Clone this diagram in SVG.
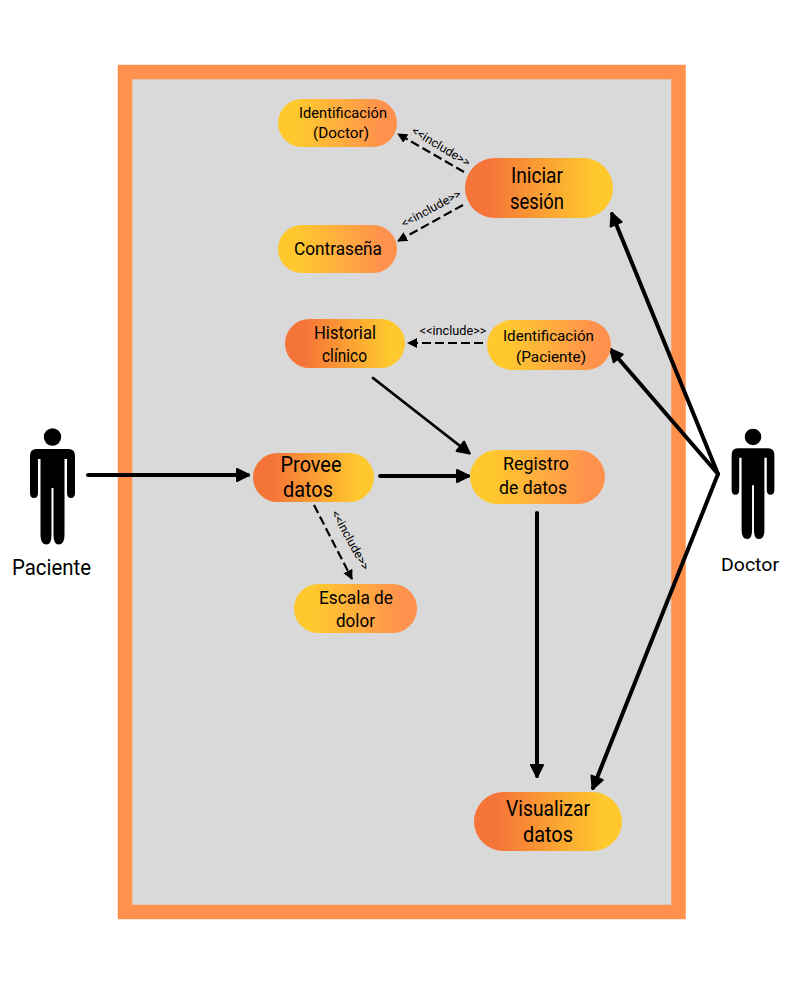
<svg xmlns="http://www.w3.org/2000/svg" width="800" height="1000" viewBox="0 0 800 1000">
<style>
text{font-family:Roboto,"Noto Sans",sans-serif;fill:#000;text-anchor:middle}
.s{font-size:15.500px}.m{font-size:18px}.l{font-size:21.500px}.t{font-size:12px}
.c{fill:none;stroke:#000;stroke-linecap:round;stroke-linejoin:round}
.b{stroke-width:4}.n{stroke-width:2.8}.d{stroke-width:2.200;stroke-dasharray:9 4;stroke-linecap:butt}
</style>
<defs>
<linearGradient id="oy" x1="0" x2="1" y1="0" y2="0"><stop offset="0.15" stop-color="#f57438"/><stop offset="0.88" stop-color="#ffc92e"/></linearGradient>
<linearGradient id="yo" x1="0" x2="1" y1="0" y2="0"><stop offset="0.15" stop-color="#ffc92e"/><stop offset="0.88" stop-color="#ff914d"/></linearGradient>
<marker id="a" markerUnits="userSpaceOnUse" markerWidth="18" markerHeight="18" refX="13" refY="8" orient="auto"><path d="M2 2L14 8L2 14Z" fill="#000" stroke="#000" stroke-width="2" stroke-linejoin="round"/></marker>
<marker id="sa" markerUnits="userSpaceOnUse" markerWidth="12" markerHeight="12" refX="9" refY="5" orient="auto"><path d="M0 0L10 5L0 10Z" fill="#000"/></marker>
<g id="man"><circle cx="0" cy="-38" r="8.700" fill="#000"/><path d="M-16-26H16Q22.500-26 22.500-19V18Q22.500 23 18.500 23Q14.500 23 14.500 18V-16H12V60Q12 69.500 6 69.500Q1 69.500 1 60V13H-1V60Q-1 69.500-6 69.500Q-12 69.500-12 60V-16H-14.500V18Q-14.500 23-18.500 23Q-22.500 23-22.500 18V-19Q-22.500-26-16-26Z" fill="#000"/></g>
</defs>
<rect x="125" y="72" width="553.500" height="840" fill="#d9d9d9" stroke="#ff914d" stroke-width="14.500"/>
<g id="connectors">
<path class="c b" marker-end="url(#a)" d="M88 475H248"/>
<path class="c b" marker-end="url(#a)" d="M380 476H468"/>
<path class="c n" marker-end="url(#a)" d="M373 378L469 453"/>
<path class="c b" marker-end="url(#a)" d="M537 513V776"/>
<path class="c b" marker-end="url(#a)" d="M718 474L612 214"/>
<path class="c b" marker-end="url(#a)" d="M718 474L611 350"/>
<path class="c b" marker-end="url(#a)" d="M718 474L593 788"/>
<path class="c d" marker-end="url(#sa)" d="M464 172L398 134"/>
<path class="c d" marker-end="url(#sa)" d="M463 205L398 241"/>
<path class="c d" marker-end="url(#sa)" d="M483 343H408"/>
<path class="c d" marker-end="url(#sa)" d="M314 505L352 579"/>
<text class="t" textLength="66" lengthAdjust="spacingAndGlyphs" transform="translate(439 150) rotate(31)">&lt;&lt;include&gt;&gt;</text>
<text class="t" textLength="66" lengthAdjust="spacingAndGlyphs" transform="translate(433 212) rotate(-28.500)">&lt;&lt;include&gt;&gt;</text>
<text class="t" textLength="67" lengthAdjust="spacingAndGlyphs" x="453" y="335">&lt;&lt;include&gt;&gt;</text>
<text class="t" textLength="66" lengthAdjust="spacingAndGlyphs" transform="translate(347 542) rotate(61)">&lt;&lt;include&gt;&gt;</text>
</g>
<g id="identificacion-doctor"><rect x="278" y="99" width="119" height="48" rx="24" fill="url(#yo)"/><text class="s" x="343" y="118" textLength="88" lengthAdjust="spacingAndGlyphs">Identificación</text><text class="s" x="341" y="138" textLength="56" lengthAdjust="spacingAndGlyphs">(Doctor)</text></g>
<g id="iniciar-sesion"><rect x="465" y="158" width="148" height="60" rx="30" fill="url(#oy)"/><text class="l" x="537" y="183" textLength="52" lengthAdjust="spacingAndGlyphs">Iniciar</text><text class="l" x="537" y="209" textLength="54" lengthAdjust="spacingAndGlyphs">sesión</text></g>
<g id="contrasena"><rect x="278" y="225" width="119" height="48" rx="24" fill="url(#yo)"/><text class="m" x="338" y="255" textLength="88" lengthAdjust="spacingAndGlyphs">Contraseña</text></g>
<g id="historial"><rect x="285" y="319" width="120" height="49" rx="24.500" fill="url(#oy)"/><text class="m" x="345" y="339" textLength="62" lengthAdjust="spacingAndGlyphs">Historial</text><text class="m" x="344.500" y="362" textLength="45" lengthAdjust="spacingAndGlyphs">clínico</text></g>
<g id="identificacion-paciente"><rect x="487" y="320" width="124" height="50" rx="25" fill="url(#yo)"/><text class="s" x="548.500" y="341" textLength="91" lengthAdjust="spacingAndGlyphs">Identificación</text><text class="s" x="551" y="362" textLength="70" lengthAdjust="spacingAndGlyphs">(Paciente)</text></g>
<g id="provee"><rect x="253" y="453" width="121" height="49" rx="24.500" fill="url(#oy)"/><text class="l" x="311" y="472" textLength="61" lengthAdjust="spacingAndGlyphs">Provee</text><text class="l" x="308" y="497" textLength="50" lengthAdjust="spacingAndGlyphs">datos</text></g>
<g id="registro"><rect x="470" y="450" width="135" height="54" rx="27" fill="url(#yo)"/><text class="m" x="536" y="470" textLength="66" lengthAdjust="spacingAndGlyphs">Registro</text><text class="m" x="533" y="494" textLength="68" lengthAdjust="spacingAndGlyphs">de datos</text></g>
<g id="escala"><rect x="294" y="584" width="123" height="49" rx="24.500" fill="url(#yo)"/><text class="m" x="356" y="604" textLength="74" lengthAdjust="spacingAndGlyphs">Escala de</text><text class="m" x="355.500" y="627" textLength="39" lengthAdjust="spacingAndGlyphs">dolor</text></g>
<g id="visualizar"><rect x="474" y="792" width="148" height="59" rx="29.500" fill="url(#oy)"/><text class="l" x="548" y="816" textLength="84" lengthAdjust="spacingAndGlyphs">Visualizar</text><text class="l" x="548" y="842" textLength="50" lengthAdjust="spacingAndGlyphs">datos</text></g>
<g id="paciente"><use href="#man" x="52.500" y="475"/><text class="l" x="51.500" y="575" textLength="79" lengthAdjust="spacingAndGlyphs">Paciente</text></g>
<g id="doctor"><use href="#man" transform="translate(753 473) scale(.95)"/><text class="m" x="750" y="571" textLength="58" lengthAdjust="spacingAndGlyphs">Doctor</text></g>
</svg>
